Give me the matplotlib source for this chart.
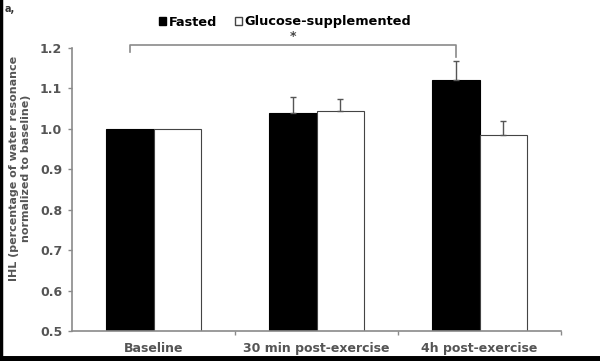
import matplotlib
matplotlib.use("Agg")
import matplotlib.pyplot as plt
from matplotlib.patches import Patch
from matplotlib.lines import Line2D
import numpy as np

categories = ["Baseline", "30 min post-exercise", "4h post-exercise"]
fasted = [1.0, 1.040, 1.121]
fasted_err = [0.0, 0.038, 0.047]
glucose = [1.0, 1.043, 0.985]
glucose_err = [0.0, 0.031, 0.034]
yticks = [0.5, 0.6, 0.7, 0.8, 0.9, 1.0, 1.1, 1.2]
series_names = ["Fasted", "Glucose-supplemented"]

gray = "#8a8a8a"
txt = "#555555"

fig = plt.figure(figsize=(6.0, 3.61), dpi=100)
ax = fig.add_axes([72/600, 1-331/361, (561-72)/600, (331-48)/361])

x = np.arange(len(categories))
w = 0.29
ax.bar(x - w/2, fasted, w, color="black", edgecolor="black", linewidth=0.8)
ax.bar(x + w/2, glucose, w, color="white", edgecolor="#444444", linewidth=0.8)

fe = np.array(fasted_err)
ge = np.array(glucose_err)
mf = fe > 0
mg = ge > 0
ax.errorbar((x - w/2)[mf], np.array(fasted)[mf], yerr=[np.zeros(mf.sum()), fe[mf]], fmt="none",
            ecolor="#555555", elinewidth=1.0, capsize=2.5, capthick=1.0)
ax.errorbar((x + w/2)[mg], np.array(glucose)[mg], yerr=[np.zeros(mg.sum()), ge[mg]], fmt="none",
            ecolor="#555555", elinewidth=1.0, capsize=2.5, capthick=1.0)

ax.set_xlim(-0.5, 2.5)
ax.set_ylim(0.5, 1.2)
ax.set_yticks(yticks)
ax.set_yticklabels([f"{v:.1f}" for v in yticks], fontsize=9, fontweight="bold", color=txt)
ax.set_xticks([0.5, 1.5, 2.5])
ax.set_xticks(x, minor=True)
ax.set_xticklabels([])
ax.set_xticklabels(categories, minor=True, fontsize=9, fontweight="bold", color=txt)
ax.tick_params(axis="x", which="minor", length=0, pad=8)
ax.tick_params(axis="x", which="major", length=3, color=gray, width=1)
ax.tick_params(axis="y", length=3, color=gray, width=1, pad=4)
for s in ["top", "right"]:
    ax.spines[s].set_visible(False)
for s in ["left", "bottom"]:
    ax.spines[s].set_color(gray)
    ax.spines[s].set_linewidth(1.2)

ax.set_ylabel("IHL (percentage of water resonance\nnormalized to baseline)",
              fontsize=8, fontweight="bold", color=txt)
ax.yaxis.set_label_coords((31-72)/489, (331-168)/283)

# significance bracket
x0 = x[0] - w/2
x1 = x[2] - w/2
ax.plot([x0, x0, x1, x1], [1.19, 1.208, 1.208, 1.178], color=gray, lw=1.2, clip_on=False)
ax.text((x0 + x1)/2, 1.213, "*", ha="center", va="bottom", fontsize=9,
        fontweight="bold", color="#444444", clip_on=False)

handles = [Patch(facecolor="black", edgecolor="black"),
           Patch(facecolor="white", edgecolor="#444444")]
fig.legend(handles, series_names, loc="center", bbox_to_anchor=(285/600, 1-22/361),
           ncol=2, frameon=False, handlelength=0.55, handleheight=0.55,
           handletextpad=0.2, columnspacing=1.4,
           prop={"size": 9.3, "weight": "bold"})

fig.text(5/600, 1-9/361, "a,", fontsize=7, fontweight="bold", color="#333333",
         ha="left", va="center")

# frame lines of the original image
fig.add_artist(Line2D([0.002, 0.002], [0, 1], color="black", lw=2.5, transform=fig.transFigure))
fig.add_artist(Line2D([0, 1], [0.006, 0.006], color="black", lw=5, transform=fig.transFigure))

fig.savefig("out.png", dpi=100)
